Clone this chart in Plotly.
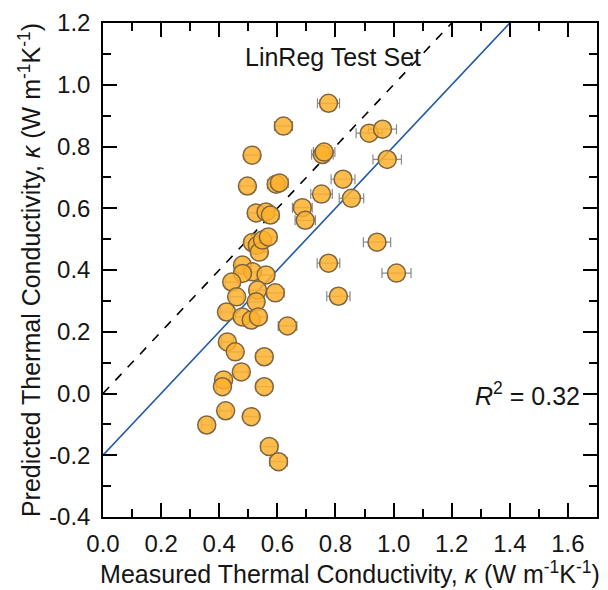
import plotly.graph_objects as go

measured = [0.776, 0.621, 0.916, 0.962, 0.513, 0.755, 0.761, 0.978, 0.497, 0.596,
            0.607, 0.826, 0.752, 0.855, 0.686, 0.696, 0.527, 0.561, 0.576, 0.514,
            0.531, 0.538, 0.549, 0.569, 0.943, 0.776, 1.010, 0.480, 0.515, 0.480,
            0.561, 0.810, 0.443, 0.532, 0.593, 0.460, 0.527, 0.425, 0.479, 0.510,
            0.535, 0.635, 0.428, 0.455, 0.555, 0.476, 0.415, 0.411, 0.555, 0.422,
            0.510, 0.357, 0.572, 0.604]
predicted = [0.940, 0.866, 0.843, 0.856, 0.772, 0.774, 0.782, 0.758, 0.672, 0.678,
             0.682, 0.694, 0.646, 0.632, 0.602, 0.561, 0.585, 0.588, 0.578, 0.489,
             0.480, 0.458, 0.497, 0.507, 0.490, 0.422, 0.390, 0.416, 0.394, 0.389,
             0.384, 0.315, 0.361, 0.335, 0.326, 0.313, 0.297, 0.264, 0.248, 0.238,
             0.248, 0.219, 0.167, 0.135, 0.119, 0.070, 0.044, 0.022, 0.022, -0.056,
             -0.075, -0.102, -0.172, -0.221]
measured_err = [0.038, 0.031, 0.045, 0.048, 0.025, 0.037, 0.037, 0.049, 0.025, 0.030,
                0.030, 0.041, 0.037, 0.042, 0.034, 0.035, 0.026, 0.028, 0.029, 0.026,
                0.027, 0.027, 0.027, 0.028, 0.047, 0.039, 0.050, 0.024, 0.026, 0.024,
                0.028, 0.040, 0.022, 0.027, 0.030, 0.023, 0.026, 0.021, 0.024, 0.025,
                0.027, 0.032, 0.021, 0.023, 0.028, 0.024, 0.021, 0.021, 0.028, 0.021,
                0.025, 0.018, 0.029, 0.030]

parity_x = [0.0, 1.2]
parity_y = [0.0, 1.2]
fit_x = [0.0, 1.4]
fit_y = [-0.2, 1.2]

x_ticks = [0.0, 0.2, 0.4, 0.6, 0.8, 1.0, 1.2, 1.4, 1.6]
y_ticks = [-0.4, -0.2, 0.0, 0.2, 0.4, 0.6, 0.8, 1.0, 1.2]

font_family = "Liberation Sans, Arial, sans-serif"
text_color = "#151515"

fig = go.Figure()
fig.add_trace(go.Scatter(x=parity_x, y=parity_y, mode="lines",
                         line=dict(color="black", width=1.6, dash="dash"),
                         showlegend=False, hoverinfo="skip"))
fig.add_trace(go.Scatter(x=fit_x, y=fit_y, mode="lines",
                         line=dict(color="#1f5aa6", width=1.6),
                         showlegend=False, hoverinfo="skip"))
fig.add_trace(go.Scatter(
    x=measured, y=predicted, mode="markers",
    error_x=dict(type="data", array=measured_err, color="#8a8a8a", thickness=1.2, width=5),
    marker=dict(size=18, color="rgba(253,176,45,0.85)",
                line=dict(color="#7d6540", width=1.5)),
    showlegend=False))

axis_common = dict(
    showline=True, linecolor="black", linewidth=1.5, mirror="ticks",
    ticks="inside", ticklen=14, tickwidth=1.5, tickcolor="black",
    showgrid=False, zeroline=False,
    tickfont=dict(family=font_family, size=24, color=text_color),
    title_font=dict(family=font_family, size=25, color=text_color),
)

fig.update_xaxes(
    range=[0, 1.7], tickvals=x_ticks, ticktext=[f"{v:.1f}" for v in x_ticks],
    minor=dict(dtick=0.1, ticks="inside", ticklen=8, tickwidth=1.5, tickcolor="black"),
    title=dict(text="Measured Thermal Conductivity, <i>κ</i> (W m<sup>-1</sup>K<sup>-1</sup>)",
               standoff=2),
    ticklabelstandoff=4,
    **axis_common)
fig.update_yaxes(
    range=[-0.4, 1.2], tickvals=y_ticks, ticktext=[f"{v:.1f}" for v in y_ticks],
    minor=dict(dtick=0.1, ticks="inside", ticklen=8, tickwidth=1.5, tickcolor="black"),
    title=dict(text="Predicted Thermal Conductivity, <i>κ</i> (W m<sup>-1</sup>K<sup>-1</sup>)",
               standoff=1),
    ticklabelstandoff=6,
    **axis_common)

fig.add_annotation(x=0.79, y=1.09, xref="x", yref="y", text="LinReg Test Set",
                   showarrow=False, font=dict(family=font_family, size=25, color=text_color))
fig.add_annotation(x=1.65, y=0.0, xref="x", yref="y", xanchor="right",
                   text="<i>R</i><sup>2</sup> = 0.32", showarrow=False,
                   font=dict(family=font_family, size=25, color=text_color))

fig.update_layout(
    width=608, height=590,
    margin=dict(l=103, r=9, t=23, b=73),
    plot_bgcolor="white", paper_bgcolor="white",
)

fig.write_html("out.html")
